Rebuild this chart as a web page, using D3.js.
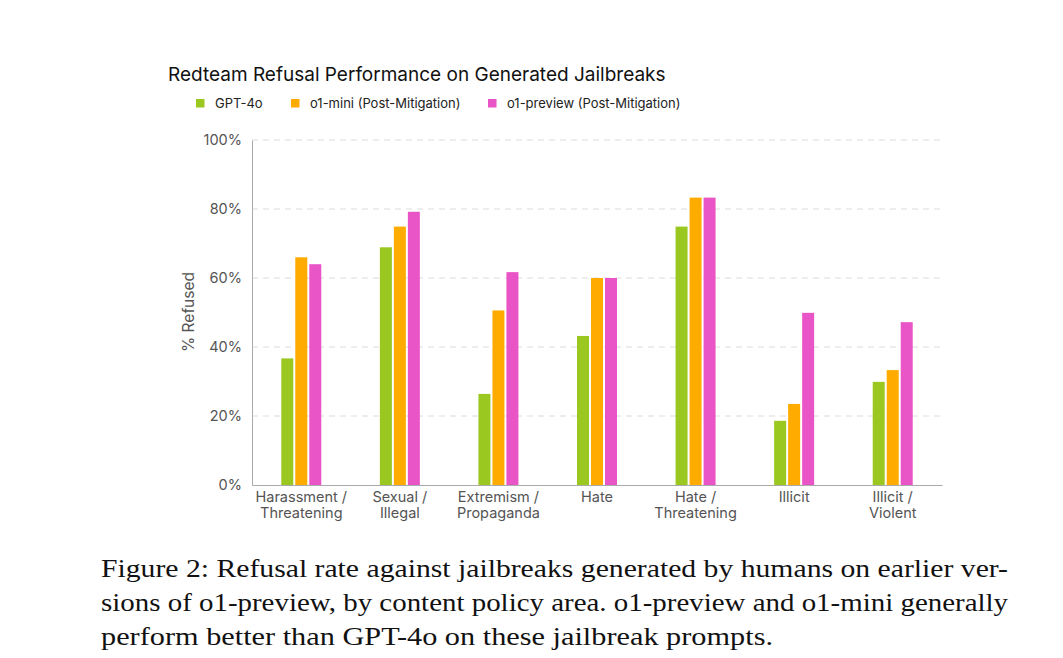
<!DOCTYPE html>
<html>
<head>
<meta charset="utf-8">
<script src="https://cdn.jsdelivr.net/npm/d3@7"></script>
<style>
  body { margin: 0; background: #fff; }
  svg { display: block; }
</style>
</head>
<body>
<svg id="chart"></svg>
<script>
// categories and values
const categories = [
    ["Harassment /", "Threatening"],
    ["Sexual /", "Illegal"],
    ["Extremism /", "Propaganda"],
    ["Hate"],
    ["Hate /", "Threatening"],
    ["Illicit"],
    ["Illicit /", "Violent"]
];
const seriesNames = ["GPT-4o", "o1-mini (Post-Mitigation)", "o1-preview (Post-Mitigation)"];
const gpt4o = [36.7, 68.9, 26.4, 43.2, 74.9, 18.6, 29.9];
const o1mini = [66.0, 74.9, 50.6, 60.0, 83.3, 23.5, 33.3];
const o1preview = [64.0, 79.2, 61.7, 60.0, 83.3, 49.9, 47.2];
const yTicks = [0, 20, 40, 60, 80, 100];
const captionLines = [
    "Figure 2: Refusal rate against jailbreaks generated by humans on earlier ver-",
    "sions of o1-preview, by content policy area. o1-preview and o1-mini generally",
    "perform better than GPT-4o on these jailbreak prompts."
];

const colors = ["#9bc820", "#ffab00", "#e955c6"];
const series = [gpt4o, o1mini, o1preview];

const W = 1063, H = 658;
const margin = { top: 140, left: 252, right: 121, bottom: 173 };
const width = W - margin.left - margin.right;
const height = H - margin.top - margin.bottom;

const svg = d3.select("#chart").attr("width", W).attr("height", H);
const sans = "Inter, 'Noto Sans', sans-serif";

// title + legend
svg.append("text")
    .attr("x", 168).attr("y", 81)
    .style("font-family", sans).style("font-size", "19px").style("fill", "#111")
    .text("Redteam Refusal Performance on Generated Jailbreaks");

const legendX = [196, 291, 488];
const legend = svg.append("g");
seriesNames.forEach((name, i) => {
    legend.append("rect")
        .attr("x", legendX[i]).attr("y", 99)
        .attr("width", 8.5).attr("height", 8.5)
        .attr("fill", colors[i]);
    legend.append("text")
        .attr("x", legendX[i] + 19).attr("y", 108)
        .style("font-family", sans).style("font-size", "13px").style("fill", "#222")
        .text(name);
});

const g = svg.append("g").attr("transform", `translate(${margin.left},${margin.top})`);

const x = d3.scaleBand().domain(d3.range(categories.length)).range([0, width]).padding(0);
const barW = 12, barGap = 2;
const x1 = d3.scaleLinear().domain([0, 1]).range([0, barW + barGap]);
const y = d3.scaleLinear().domain([0, 100]).range([height, 0]);

// gridlines
g.append("g")
    .selectAll("line")
    .data(yTicks.filter(t => t > 0))
    .join("line")
    .attr("x1", 0).attr("x2", width)
    .attr("y1", d => y(d)).attr("y2", d => y(d))
    .attr("stroke", "#dcdcdc")
    .attr("stroke-dasharray", "6,5");

// y axis
const yAxis = g.append("g")
    .call(d3.axisLeft(y).tickValues(yTicks).tickFormat(d => d + "%").tickSize(0).tickPadding(10));
yAxis.select(".domain").attr("stroke", "#aaa");
yAxis.selectAll("text")
    .style("font-family", sans).style("font-size", "14.5px").style("fill", "#555");

// bars
const groupW = series.length * barW + (series.length - 1) * barGap;
series.forEach((vals, si) => {
    g.append("g")
        .selectAll("rect")
        .data(vals)
        .join("rect")
        .attr("x", (d, i) => x(i) + x.bandwidth() / 2 - groupW / 2 + x1(si))
        .attr("y", d => y(d))
        .attr("width", barW)
        .attr("height", d => y(0) - y(d))
        .attr("fill", colors[si]);
});

// x axis
const xAxis = g.append("g")
    .attr("transform", `translate(0,${height})`)
    .call(d3.axisBottom(x).tickSize(0).tickFormat(""));
xAxis.select(".domain").attr("stroke", "#aaa");
xAxis.selectAll(".tick").each(function (d) {
    const t = d3.select(this).append("text")
        .attr("text-anchor", "middle")
        .style("font-family", sans).style("font-size", "14.5px").style("fill", "#555");
    categories[d].forEach((line, li) => {
        t.append("tspan").attr("x", 0).attr("y", 17 + li * 16).text(line);
    });
});

// y label
svg.append("text")
    .attr("transform", "translate(194,312) rotate(-90)")
    .attr("text-anchor", "middle")
    .style("font-family", sans).style("font-size", "15.5px").style("fill", "#555")
    .text("% Refused");

// caption
const capLen = [907, 907, 672];
captionLines.forEach((line, i) => {
    svg.append("text")
        .attr("x", 101).attr("y", 577 + i * 34)
        .attr("textLength", capLen[i])
        .attr("lengthAdjust", "spacingAndGlyphs")
        .style("font-family", "'Liberation Serif', 'DejaVu Serif', serif")
        .style("font-size", "24.5px").style("fill", "#111")
        .text(line);
});
</script>
</body>
</html>
